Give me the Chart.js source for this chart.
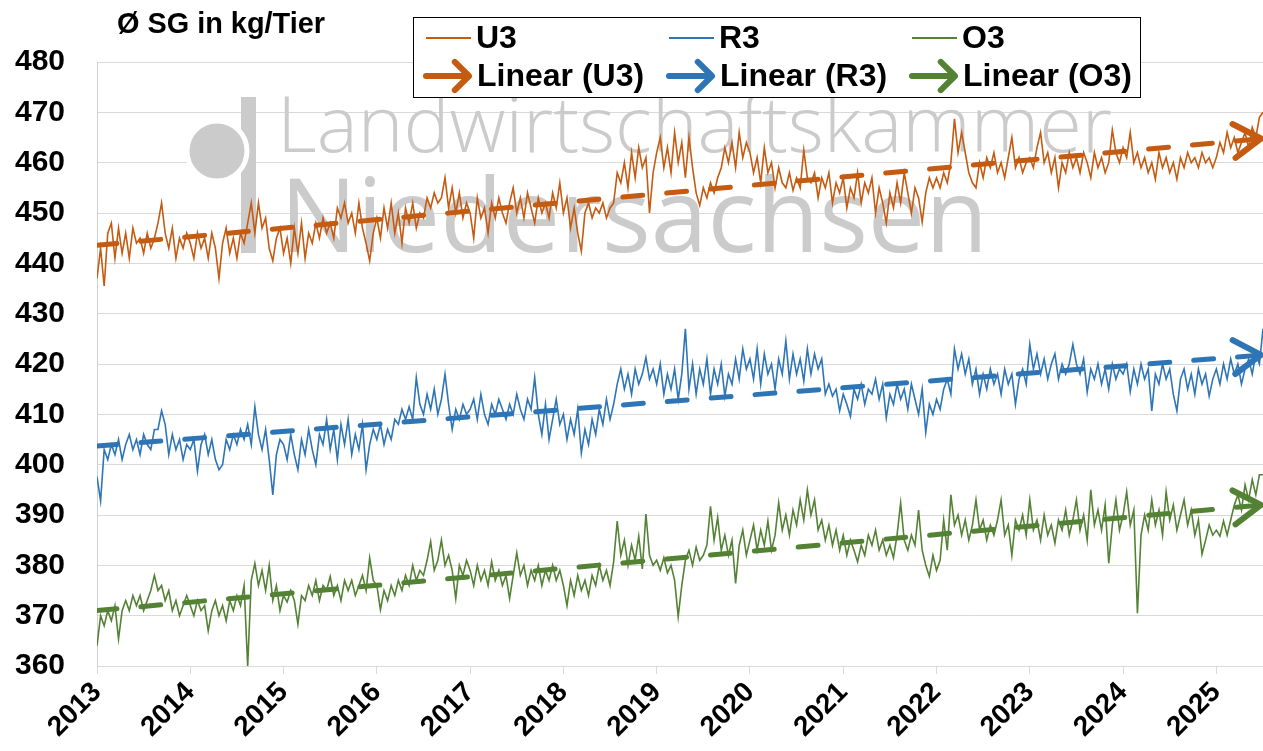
<!DOCTYPE html>
<html lang="de">
<head>
<meta charset="utf-8">
<title>Ø SG in kg/Tier</title>
<script src="https://cdn.jsdelivr.net/npm/chart.js@4.4.1/dist/chart.umd.min.js"></script>
<style>
    html, body { margin: 0; padding: 0; background: #fff; }
    #wrap { width: 1263px; height: 751px; }
</style>
</head>
<body>
<div id="wrap"><canvas id="sgChart" width="1263" height="751"></canvas></div>
<script>
// ==========================================
// Schlachtgewichte U3 / R3 / O3 — Ø SG in kg/Tier
// Werte 14-tägig, Start Januar 2013
// ==========================================

const startYear = 2013;
const pointsPerYear = 26;
const yearTicks = [2013, 2014, 2015, 2016, 2017, 2018, 2019, 2020, 2021, 2022, 2023, 2024, 2025];

// U3 — eine Zeile je Jahr
const u3Values = [
    437, 443, 435.5, 446, 448, 441, 447, 442, 446, 441, 447, 444, 445, 442, 446, 443, 445, 448, 452, 446, 443, 447, 441, 445, 443, 446,
    444, 441, 446, 443, 445, 441, 446, 443, 437, 444, 447, 442, 445, 441, 446, 444, 448, 452, 446, 452, 447, 449, 443, 440.5, 445, 447,
    442, 445, 440, 447, 442, 448, 441, 446, 444, 448, 445, 449, 446, 448, 445, 451, 449, 452, 448, 450, 446, 452, 447, 444, 440.5, 446,
    449, 445, 451, 447, 452, 446, 450, 444, 451, 448, 452, 447, 450, 449, 453, 451, 454, 452, 453, 457, 451, 455, 450, 454, 449, 452,
    450, 445, 453, 449, 451, 446, 452, 449, 453, 450, 448, 452, 455, 450, 453, 449, 454, 451, 448, 453, 450, 452, 449, 454, 451, 456,
    450, 453, 447, 451, 446, 442.4, 450, 452, 449, 451, 450, 452, 449, 451, 452, 458, 456, 460, 455, 462, 457, 463, 459, 461, 450, 458,
    462, 465, 459, 463, 458, 466, 460, 464, 457, 465, 459, 454, 451.5, 455, 453, 456, 454, 457, 459, 463, 460, 464, 459, 466, 461, 464,
    462, 458, 461, 456, 463, 458, 460, 455, 459, 456, 455, 458, 454.5, 457, 455, 462.5, 457, 456, 458, 453, 457, 455, 458, 452, 456, 454,
    457, 451, 455, 453, 458, 452, 456, 454, 457, 450, 455, 452, 448, 454, 451, 456, 452, 458, 454, 450, 455, 453, 448.2, 454, 457, 455,
    457, 455, 458, 456, 460, 468.7, 462, 466, 462, 458, 456, 455, 460, 457, 461, 459, 462, 458, 460, 457, 461, 465, 459, 461, 458, 460,
    461, 459, 463, 466, 460, 462, 458, 461, 455, 460, 458, 462, 459, 461, 458, 462, 460, 457, 462, 459, 461, 458, 460, 466.5, 462, 460,
    463, 461, 466, 460, 462, 459, 461, 458, 460, 456.7, 462, 459, 461, 458, 460, 456.7, 461, 459, 462, 460, 461, 459, 462, 460, 461, 459,
    461, 464, 462, 466, 463, 465, 462, 464, 466, 463, 467, 465, 469, 470
];

// R3
const r3Values = [
    397.6, 392.8, 403, 401, 404, 402, 405, 401, 404, 406, 403, 405, 402, 406, 404, 403, 407, 407, 410.7, 408, 402, 406, 403, 405, 401, 404,
    403, 405, 398.7, 404, 406, 402, 405, 401, 399, 400, 405, 403, 406, 404, 407, 405, 408, 404, 411.5, 406, 403, 407, 401, 394, 402, 405,
    404, 401, 406, 402, 399, 405, 402, 407, 403, 400, 406, 404, 409, 403, 407, 401, 408, 404, 409, 402, 406, 403, 408, 399, 404, 407,
    405, 408, 404, 407, 405, 409, 408, 411, 409, 411.5, 409, 417.3, 412, 410, 414, 411, 415, 410, 413, 418, 412, 407, 411, 409, 412, 410,
    411, 413, 409, 414, 410, 408, 412, 410, 413, 411, 409, 412, 410, 414, 411, 409, 413, 411, 417.3, 410, 406, 412, 405, 409, 413, 408,
    410, 405, 409, 406, 411, 402.3, 407, 404, 409, 406, 411, 408, 413, 409, 412, 416, 419, 415, 418, 414, 419, 416, 418, 421.3, 417, 419,
    416, 420, 414, 418, 415, 419, 413, 418, 427, 415, 420, 414, 419, 416, 421, 414, 419, 416, 420, 413.6, 418, 416, 421, 417, 423, 419,
    421, 417, 423, 416, 422, 418, 420, 415, 421, 418, 424.6, 417, 422, 418, 421, 416.6, 423, 418, 422, 419, 421, 414, 416, 413.6, 415, 410.7,
    414, 412, 409.6, 415, 413, 416, 412, 415, 414, 417, 413, 416, 409.3, 414, 412, 416, 413, 415, 411, 416, 413, 410, 415, 406.4, 412, 410,
    413, 411, 415, 417, 414, 423, 419, 422, 418, 421, 416, 419, 414, 418, 415, 419, 416, 418, 414, 419, 416, 418, 412, 417, 419, 416,
    423.9, 419, 422, 418, 421, 417, 420, 422, 417, 420, 418, 420, 423.9, 420, 418, 421, 414.4, 419, 417, 420, 416, 419, 415, 420, 417, 419,
    418, 420, 414.5, 419, 416, 420, 417, 419, 410.7, 418, 416, 420, 417, 419, 414, 410.7, 417, 419, 415, 418, 414, 419, 416, 418, 413.6, 417,
    419, 416, 420, 417, 421, 418, 420, 416, 419, 421, 418, 422, 420, 427
];

// O3
const o3Values = [
    364, 370, 368, 371, 369, 372, 365.4, 371, 373, 371, 374, 372, 374, 371, 373, 375, 378, 375, 376, 373, 375, 371, 373, 370, 372, 374,
    372, 370, 373, 371, 372, 367, 371, 373, 370, 372, 369, 373, 371, 374, 372, 376, 360, 377, 380.4, 376, 379, 375, 380, 373, 376, 371,
    374, 372.7, 375, 373, 368.3, 374, 373, 376, 374, 377, 373, 376, 375, 377.8, 374, 376, 373, 377, 375, 377, 374, 376, 378, 375, 381.5, 377,
    376, 371.2, 375, 373, 376, 374, 377, 375, 378, 376, 380, 377, 379, 378, 381, 384.7, 379, 381, 385, 380, 382, 379, 373.4, 380, 378, 381,
    379, 376, 380, 377, 379, 376, 380.7, 377, 379, 376, 378, 373.4, 378, 382.5, 378, 380, 376, 379, 377, 380, 376, 379, 377, 380, 377, 379,
    376, 372, 377, 374, 378, 375, 377, 374, 378, 376, 380, 377, 379, 376, 380.7, 388.8, 382, 385, 380, 384, 381, 385.8, 379.3, 390.2, 382, 380,
    381, 379, 381.5, 378.5, 380, 377, 369.8, 376, 381, 383, 380, 383.6, 381, 382, 384, 391.7, 385, 389.5, 383, 386, 382, 385, 376.4, 384, 387, 382,
    385, 388, 383, 387, 384, 388.8, 383, 386, 392.4, 387, 390, 386, 391, 388, 393, 389, 395, 390, 393, 387, 389, 385, 388, 384, 387, 383,
    386, 382, 385, 383, 380.7, 384, 382, 386, 384, 387, 383, 385, 382, 384, 381.5, 386, 392.4, 385, 383, 386, 384, 391, 383, 380, 377.8, 382,
    379, 381, 389, 383, 394, 388, 390, 386, 389, 385, 388, 393, 387, 389, 385, 388, 386, 389, 393, 386, 388, 382, 389, 387, 390, 386,
    393, 387, 389, 385, 390, 386, 388, 384.4, 389, 387, 391, 386, 389, 393, 387, 390, 385, 395, 388, 391, 387, 392, 380.4, 388, 393, 387,
    390, 394.6, 388, 391, 370.5, 386, 390, 387, 393, 388, 391, 386, 394.6, 389, 392, 387, 390, 393, 388, 391, 386, 389, 382.2, 385, 388, 386,
    387, 385.8, 388.8, 386, 389, 392, 394, 391, 396, 393, 397, 394, 398, 398
];

// Lineare Trends: Anfangs- und Endwert
const trendYears = [2013, 2025.5];
const u3Trend = [443.6, 464.8];
const r3Trend = [403.7, 421.8];
const o3Trend = [371.0, 392.0];

const COLORS = { u3: '#C55A11', r3: '#2E75B6', o3: '#548235' };
const FONT = '"Liberation Sans", Arial, sans-serif';

const series = values => values.map((v, i) => ({ x: startYear + i / pointsPerYear, y: v }));
const trend = values => values.map((v, i) => ({ x: trendYears[i], y: v }));

// offener Pfeil ">" am Ende der Trendlinie
function drawChevron(ctx, x, y, ang, len, spread, color, width) {
    ctx.save();
    ctx.setLineDash([]);
    ctx.strokeStyle = color;
    ctx.lineWidth = width;
    ctx.lineCap = 'round';
    ctx.lineJoin = 'round';
    ctx.beginPath();
    ctx.moveTo(x - len * Math.cos(ang - spread), y - len * Math.sin(ang - spread));
    ctx.lineTo(x, y);
    ctx.lineTo(x - len * Math.cos(ang + spread), y - len * Math.sin(ang + spread));
    ctx.stroke();
    ctx.restore();
}

function fitFont(ctx, text, weight, family, targetWidth) {
    ctx.font = `${weight} 100px ${family}`;
    return 100 * targetWidth / ctx.measureText(text).width;
}

// Wasserzeichen Landwirtschaftskammer
const watermarkPlugin = {
    id: 'watermark',
    beforeDatasetsDraw(chart) {
        const ctx = chart.ctx;
        ctx.save();
        ctx.fillStyle = '#cbcbcb';
        ctx.fillRect(241, 97, 15, 156);
        ctx.beginPath();
        ctx.arc(217, 151, 30, 0, Math.PI * 2);
        ctx.fill();
        ctx.lineWidth = 5;
        ctx.strokeStyle = '#fff';
        ctx.stroke();
        ctx.textBaseline = 'alphabetic';
        ctx.textAlign = 'left';
        const fam = '"Open Sans", "DejaVu Sans", sans-serif';
        let size = fitFont(ctx, 'Landwirtschaftskammer', 300, fam, 835);
        ctx.font = `300 ${size}px ${fam}`;
        ctx.fillText('Landwirtschaftskammer', 277, 152);
        size = fitFont(ctx, 'Niedersachsen', 400, fam, 708);
        ctx.font = `400 ${size}px ${fam}`;
        ctx.fillText('Niedersachsen', 280, 252);
        ctx.restore();
    }
};

const arrowPlugin = {
    id: 'trendArrows',
    afterDatasetsDraw(chart) {
        chart.data.datasets.forEach((ds, i) => {
            if (!ds.isTrend) return;
            const pts = chart.getDatasetMeta(i).data;
            const tip = pts[pts.length - 1], prev = pts[pts.length - 2];
            const ang = Math.atan2(tip.y - prev.y, tip.x - prev.x);
            drawChevron(chart.ctx, tip.x - 2, tip.y, ang, 32, 0.56, ds.borderColor, 6);
        });
    }
};

// Legende im Kasten (3 Spalten x 2 Zeilen) + Achsentitel
const legendCols = [424, 667, 910];
const legendRows = [38, 76];
const boxLegendPlugin = {
    id: 'boxLegend',
    afterDraw(chart) {
        const ctx = chart.ctx;
        ctx.save();
        ctx.fillStyle = '#fff';
        ctx.fillRect(413.5, 17.5, 727, 80);
        ctx.strokeStyle = '#000';
        ctx.lineWidth = 1;
        ctx.strokeRect(413.5, 17.5, 727, 80);
        ctx.font = `bold 32px ${FONT}`;
        ctx.textBaseline = 'middle';
        ctx.textAlign = 'left';
        chart.data.datasets.forEach(ds => {
            const col = ds.legendCol, y = legendRows[ds.isTrend ? 1 : 0], x0 = legendCols[col];
            if (ds.isTrend) {
                ctx.strokeStyle = ds.borderColor;
                ctx.lineWidth = 6;
                ctx.lineCap = 'round';
                ctx.beginPath();
                ctx.moveTo(x0 + 2, y);
                ctx.lineTo(x0 + 44, y);
                ctx.stroke();
                drawChevron(ctx, x0 + 45, y, 0, 20, 0.78, ds.borderColor, 6);
                ctx.fillStyle = '#000';
                ctx.fillText(ds.label, x0 + 53, y + 1);
            } else {
                ctx.strokeStyle = ds.borderColor;
                ctx.lineWidth = 2;
                ctx.lineCap = 'butt';
                ctx.beginPath();
                ctx.moveTo(x0 + 2, y);
                ctx.lineTo(x0 + 47, y);
                ctx.stroke();
                ctx.fillStyle = '#000';
                ctx.fillText(ds.label, x0 + 52, y + 1);
            }
        });
        // Achsentitel
        const title = 'Ø SG in kg/Tier';
        const size = fitFont(ctx, title, 'bold', FONT, 208);
        ctx.font = `bold ${size}px ${FONT}`;
        ctx.textBaseline = 'alphabetic';
        ctx.fillStyle = '#000';
        ctx.fillText(title, 117, 33);
        ctx.restore();
    }
};

new Chart(document.getElementById('sgChart'), {
    type: 'line',
    data: {
        datasets: [
            { label: 'U3', data: series(u3Values), borderColor: COLORS.u3, borderWidth: 1.6, pointRadius: 0, order: 1, legendCol: 0 },
            { label: 'R3', data: series(r3Values), borderColor: COLORS.r3, borderWidth: 1.6, pointRadius: 0, order: 1, legendCol: 1 },
            { label: 'O3', data: series(o3Values), borderColor: COLORS.o3, borderWidth: 1.6, pointRadius: 0, order: 1, legendCol: 2 },
            { label: 'Linear (U3)', data: trend(u3Trend), borderColor: COLORS.u3, borderWidth: 5, borderDash: [20, 24], borderCapStyle: 'round', pointRadius: 0, order: 0, isTrend: true, legendCol: 0 },
            { label: 'Linear (R3)', data: trend(r3Trend), borderColor: COLORS.r3, borderWidth: 5, borderDash: [20, 24], borderCapStyle: 'round', pointRadius: 0, order: 0, isTrend: true, legendCol: 1 },
            { label: 'Linear (O3)', data: trend(o3Trend), borderColor: COLORS.o3, borderWidth: 5, borderDash: [20, 24], borderCapStyle: 'round', pointRadius: 0, order: 0, isTrend: true, legendCol: 2 }
        ]
    },
    options: {
        responsive: false,
        devicePixelRatio: 1,
        animation: false,
        layout: { padding: { top: 62, right: 0, bottom: 0, left: 0 } },
        plugins: { legend: { display: false }, tooltip: { enabled: false } },
        scales: {
            x: {
                type: 'linear',
                min: 2013,
                max: 2025.5,
                afterBuildTicks: scale => { scale.ticks = yearTicks.map(v => ({ value: v })); },
                afterFit: scale => { scale.height = 85; },
                grid: { drawOnChartArea: false, drawTicks: true, tickLength: 8, color: '#d9d9d9' },
                border: { display: true, color: '#d9d9d9' },
                ticks: {
                    autoSkip: false, minRotation: 45, maxRotation: 45, padding: 2, color: '#000',
                    font: { family: FONT, size: 28, weight: 'bold' },
                    callback: v => String(v)
                }
            },
            y: {
                min: 360,
                max: 480,
                afterFit: scale => { scale.width = 97; },
                grid: { color: '#d9d9d9', drawTicks: false },
                border: { color: '#d0d0d0' },
                ticks: { stepSize: 10, padding: 32, color: '#000', font: { family: FONT, size: 30, weight: 'bold' } }
            }
        }
    },
    plugins: [watermarkPlugin, arrowPlugin, boxLegendPlugin]
});
</script>
</body>
</html>
